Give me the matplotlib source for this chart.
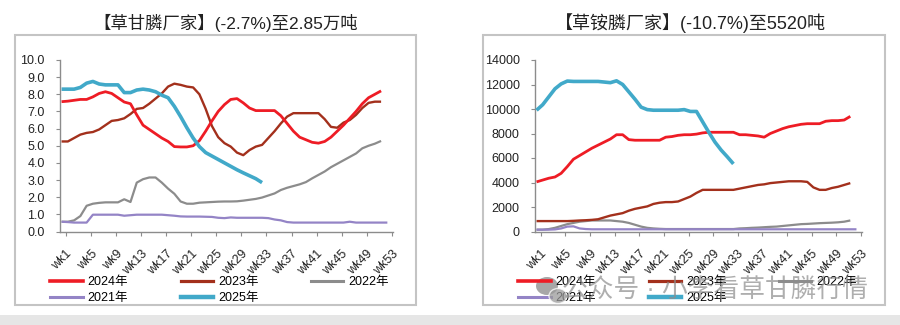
import numpy as np
import matplotlib
matplotlib.use("Agg")
import matplotlib.pyplot as plt
from matplotlib.patches import Rectangle, Ellipse
from matplotlib.lines import Line2D

plt.rcParams['font.family'] = ['Liberation Sans', 'Noto Sans CJK SC']

# 草甘膦厂家库存 (万吨), by week
gly_2024 = [7.57, 7.6, 7.65, 7.7, 7.7, 7.85, 8.05, 8.15, 8.05, 7.8,
            7.55, 7.45, 6.8, 6.2, 5.95, 5.7, 5.45, 5.25, 4.95, 4.93,
            4.93, 5.0, 5.3, 5.85, 6.45, 7.0, 7.4, 7.7, 7.75, 7.5,
            7.2, 7.05, 7.05, 7.05, 7.05, 6.75, 6.3, 5.85, 5.5, 5.35,
            5.2, 5.15, 5.25, 5.5, 5.85, 6.2, 6.6, 7.0, 7.45, 7.8,
            8.0, 8.2]
gly_2023 = [5.25, 5.25, 5.45, 5.65, 5.75, 5.8, 5.95, 6.2, 6.45, 6.5,
            6.6, 6.85, 7.15, 7.2, 7.45, 7.75, 8.05, 8.45, 8.62, 8.55,
            8.45, 8.4, 8.0, 7.15, 6.15, 5.5, 5.15, 4.95, 4.6, 4.45,
            4.75, 4.95, 5.05, 5.45, 5.85, 6.3, 6.7, 6.9, 6.9, 6.9,
            6.9, 6.9, 6.55, 6.1, 6.05, 6.35, 6.5, 6.8, 7.2, 7.5,
            7.57, 7.57]
gly_2022 = [0.57, 0.57, 0.65, 0.9, 1.5, 1.62, 1.67, 1.7, 1.7, 1.7,
            1.88, 1.72, 2.85, 3.05, 3.15, 3.15, 2.85, 2.5, 2.2, 1.75,
            1.62, 1.62, 1.68, 1.7, 1.72, 1.74, 1.75, 1.75, 1.76, 1.8,
            1.85, 1.9, 1.98, 2.1, 2.22, 2.42, 2.55, 2.65, 2.75, 2.88,
            3.1, 3.3, 3.5, 3.75, 3.95, 4.15, 4.35, 4.55, 4.85, 5.0,
            5.12, 5.28]
gly_2021 = [0.57, 0.55, 0.52, 0.52, 0.52, 0.98, 0.98, 0.98, 0.98, 0.98,
            0.92, 0.95, 0.98, 0.98, 0.98, 0.98, 0.98, 0.95, 0.92, 0.88,
            0.87, 0.87, 0.87, 0.86, 0.85, 0.8, 0.78, 0.82, 0.8, 0.8,
            0.8, 0.8, 0.8, 0.78, 0.7, 0.65, 0.55, 0.52, 0.52, 0.52,
            0.52, 0.52, 0.52, 0.52, 0.52, 0.52, 0.57, 0.52, 0.52, 0.52,
            0.52, 0.52, 0.52]
gly_2025 = [8.3, 8.3, 8.3, 8.4, 8.65, 8.75, 8.6, 8.55, 8.55, 8.55,
            8.1, 8.1, 8.25, 8.3, 8.25, 8.15, 7.95, 7.8, 7.3, 6.7,
            6.05, 5.45, 4.95, 4.6, 4.4, 4.2, 4.0, 3.8, 3.6, 3.42,
            3.25, 3.08, 2.85]

# 草铵膦厂家库存 (吨), by week
glu_2024 = [4050, 4200, 4350, 4450, 4750, 5300, 5900, 6200, 6500, 6800,
            7050, 7300, 7550, 7900, 7900, 7500, 7450, 7450, 7450, 7450,
            7450, 7700, 7750, 7850, 7900, 7900, 7950, 8050, 8100, 8100,
            8100, 8100, 8100, 7900, 7900, 7850, 7800, 7700, 8000, 8200,
            8400, 8550, 8650, 8750, 8800, 8800, 8800, 9000, 9050, 9050,
            9100, 9400]
glu_2023 = [850, 850, 850, 850, 850, 850, 870, 900, 920, 950,
            1000, 1150, 1300, 1400, 1500, 1700, 1850, 1950, 2050, 2250,
            2350, 2400, 2400, 2450, 2650, 2850, 3150, 3400, 3400, 3400,
            3400, 3400, 3400, 3500, 3600, 3700, 3800, 3850, 3950, 4000,
            4050, 4100, 4100, 4100, 4050, 3600, 3400, 3400, 3550, 3650,
            3800, 3950]
glu_2022 = [150, 150, 200, 300, 450, 600, 700, 800, 850, 900,
            900, 900, 900, 850, 800, 700, 550, 400, 300, 250,
            220, 200, 200, 200, 200, 200, 200, 200, 200, 200,
            200, 200, 200, 250, 270, 300, 320, 350, 380, 400,
            450, 500, 550, 600, 620, 650, 680, 700, 720, 750,
            800, 900]
glu_2021 = [150, 150, 150, 170, 250, 400, 420, 250, 200] + [180] * 44
glu_2025 = [9900, 10350, 11000, 11650, 12050, 12280, 12250, 12250, 12250, 12250,
            12250, 12200, 12150, 12300, 12000, 11400, 10800, 10150, 9950, 9900,
            9900, 9900, 9900, 9900, 9950, 9800, 9800, 8950, 8100, 7300,
            6650, 6100, 5520]

years = ['2024年', '2023年', '2022年', '2021年', '2025年']
colors = {'2024年': '#EE1C25', '2023年': '#A3301C', '2022年': '#8C8C8C',
          '2021年': '#9484C6', '2025年': '#41A9C9'}
widths = {'2024年': 2.0, '2023年': 1.7, '2022年': 1.6, '2021年': 1.6, '2025年': 2.6}
week_labels = ['wk%d' % w for w in range(1, 54, 4)]

W, H = 900, 325
fig = plt.figure(figsize=(9, 3.25), dpi=100)


def fx(px):
    return px / W


def fy(py):
    return 1 - py / H


# panel frames and bottom band
for x0, x1 in [(15, 416), (483, 885)]:
    fig.patches.append(Rectangle((fx(x0), fy(305)), fx(x1 - x0), (305 - 35) / H,
                                 transform=fig.transFigure, fill=False,
                                 edgecolor='#C4C4C4', lw=1.5))
fig.patches.append(Rectangle((0, 0), 1, 10 / H, transform=fig.transFigure,
                             facecolor='#E6E6E6', edgecolor='none'))


def draw_panel(ax, series, ymax, ystep, fmt):
    for yr in ['2022年', '2021年', '2023年', '2024年', '2025年']:
        vals = series[yr]
        ax.plot(np.arange(1, len(vals) + 1), vals, color=colors[yr],
                lw=widths[yr], solid_capstyle='butt', zorder=3)
    ax.set_xlim(0.75, 53.9)
    ax.set_ylim(0, ymax)
    ax.set_yticks(np.arange(0, ymax + ystep / 2, ystep))
    ax.set_yticklabels([fmt % v for v in np.arange(0, ymax + ystep / 2, ystep)])
    ax.set_xticks(np.arange(1, 54, 4) + 0.7)
    ax.set_xticklabels(week_labels, rotation=45, ha='right', va='top',
                       rotation_mode='anchor')
    for s in ['top', 'right']:
        ax.spines[s].set_visible(False)
    for s in ['left', 'bottom']:
        ax.spines[s].set_color('#8C8C8C')
        ax.spines[s].set_linewidth(1.0)
    ax.tick_params(axis='both', direction='out', length=3, width=0.8,
                   color='#8C8C8C', labelsize=9, labelcolor='#222222')
    ax.tick_params(axis='y', pad=8)
    ax.tick_params(axis='x', pad=9)


ax1 = fig.add_axes([fx(60), fy(231.5), fx(393 - 60), (231.5 - 60) / H])
draw_panel(ax1, dict(zip(years, [gly_2024, gly_2023, gly_2022, gly_2021, gly_2025])),
           10, 1, '%.1f')
ax2 = fig.add_axes([fx(535), fy(231.5), fx(862 - 535), (231.5 - 60) / H])
draw_panel(ax2, dict(zip(years, [glu_2024, glu_2023, glu_2022, glu_2021, glu_2025])),
           14000, 2000, '%d')

fig.text(fx(226), fy(23), '【草甘膦厂家】(-2.7%)至2.85万吨', ha='center', va='center',
         fontsize=12.5, color='#222222')
fig.text(fx(690), fy(23), '【草铵膦厂家】(-10.7%)至5520吨', ha='center', va='center',
         fontsize=13, color='#222222')

# legends, filled column-wise so rows read 2024/2023/2022, 2021/2025
order = ['2024年', '2021年', '2023年', '2025年', '2022年']
handles = [Line2D([], [], color=colors[y], lw=widths[y] + 0.6) for y in order]
for left in [50, 518]:
    fig.legend(handles, order, ncol=3, loc='upper left',
               bbox_to_anchor=(fx(left), fy(276)), bbox_transform=fig.transFigure,
               frameon=False, fontsize=9, handlelength=2.6, handletextpad=0.4,
               columnspacing=4.2, borderpad=0, borderaxespad=0, labelspacing=0.35)

# account watermark over the right panel
fig.patches.append(Ellipse((fx(547), fy(286)), fx(22), 18 / H, transform=fig.transFigure,
                           facecolor='#8A8A8A', edgecolor='none', alpha=0.75, zorder=5))
fig.patches.append(Ellipse((fx(558), fy(296)), fx(18), 15 / H, transform=fig.transFigure,
                           facecolor='#9A9A9A', edgecolor='white', lw=1, alpha=0.75, zorder=6))
fig.text(fx(562), fy(291), '公众号 · 小李看草甘膦行情', ha='left', va='center',
         fontsize=18.5, color='#8C8C8C', alpha=0.7, zorder=6)

fig.savefig('out.png', dpi=100)
